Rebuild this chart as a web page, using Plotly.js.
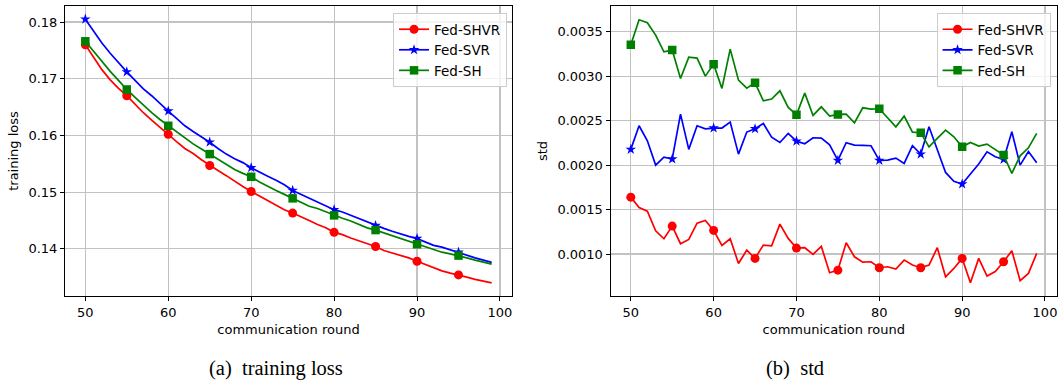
<!DOCTYPE html>
<html>
<head>
<meta charset="utf-8">
<script src="https://cdn.plot.ly/plotly-3.0.1.min.js"></script>
<style>html,body{margin:0;padding:0;background:#fff;}#chart{width:1062px;height:381px;}</style>
</head>
<body>
<div id="chart"></div>
<script>
// communication rounds
const rounds = [50,51,52,53,54,55,56,57,58,59,60,61,62,63,64,65,66,67,68,69,70,71,72,73,74,75,76,77,78,79,80,81,82,83,84,85,86,87,88,89,90,91,92,93,94,95,96,97,98,99];
// marker rounds
const markerRounds = [50,55,60,65,70,75,80,85,90,95];

// (a) training loss
const lossSHVR = [0.1760,0.1738,0.1716,0.1698,0.1683,0.1670,0.1655,0.1640,0.1627,0.1614,0.1602,0.1589,0.1577,0.1568,0.1557,0.1547,0.1538,0.1529,0.1519,0.1510,0.1501,0.1493,0.1485,0.1477,0.1469,0.1463,0.1457,0.1450,0.1443,0.1437,0.1429,0.1425,0.1419,0.1414,0.1409,0.1404,0.1397,0.1393,0.1389,0.1384,0.1378,0.1372,0.1366,0.1361,0.1357,0.1354,0.1350,0.1346,0.1343,0.1340];
const lossSVR = [0.1805,0.1784,0.1763,0.1745,0.1728,0.1712,0.1697,0.1682,0.1670,0.1656,0.1643,0.1630,0.1617,0.1607,0.1598,0.1588,0.1577,0.1567,0.1559,0.1552,0.1543,0.1535,0.1528,0.1521,0.1513,0.1503,0.1496,0.1489,0.1482,0.1475,0.1469,0.1465,0.1459,0.1453,0.1448,0.1441,0.1436,0.1431,0.1426,0.1422,0.1418,0.1412,0.1406,0.1403,0.1398,0.1394,0.1389,0.1384,0.1380,0.1376];
const lossSH = [0.1766,0.1748,0.1730,0.1713,0.1697,0.1681,0.1667,0.1653,0.1640,0.1628,0.1617,0.1606,0.1595,0.1585,0.1576,0.1567,0.1558,0.1550,0.1540,0.1533,0.1527,0.1518,0.1510,0.1503,0.1496,0.1489,0.1482,0.1475,0.1471,0.1465,0.1459,0.1454,0.1449,0.1443,0.1437,0.1433,0.1428,0.1423,0.1418,0.1413,0.1408,0.1404,0.1399,0.1394,0.1391,0.1388,0.1384,0.1380,0.1376,0.1373];

// (b) std
const stdSHVR = [0.001640,0.001524,0.001483,0.001262,0.001172,0.001314,0.001116,0.001164,0.001348,0.001378,0.001266,0.001097,0.001172,0.000894,0.001044,0.000951,0.001101,0.001093,0.001337,0.001176,0.001067,0.001071,0.000996,0.001086,0.000789,0.000819,0.001127,0.000969,0.000909,0.000913,0.000846,0.000857,0.000831,0.000932,0.000876,0.000846,0.000876,0.001071,0.000744,0.000838,0.000951,0.000677,0.000951,0.000752,0.000804,0.000913,0.001037,0.000700,0.000782,0.001007];
const stdSVR = [0.002177,0.002443,0.002274,0.002000,0.002090,0.002068,0.002574,0.002177,0.002443,0.002409,0.002417,0.002417,0.002484,0.002124,0.002372,0.002409,0.002469,0.002315,0.002255,0.002357,0.002270,0.002240,0.002308,0.002304,0.002229,0.002053,0.002252,0.002225,0.002222,0.002218,0.002053,0.002057,0.002079,0.002019,0.002218,0.002124,0.002432,0.002177,0.001918,0.001818,0.001787,0.001900,0.002012,0.002150,0.002094,0.002064,0.002375,0.002000,0.002154,0.002027];
const stdSH = [0.003354,0.003635,0.003601,0.003463,0.003275,0.003294,0.002975,0.003215,0.003204,0.003001,0.003136,0.002863,0.003305,0.002956,0.002866,0.002926,0.002724,0.002743,0.002836,0.002649,0.002567,0.002810,0.002559,0.002656,0.002551,0.002570,0.002574,0.002476,0.002645,0.002630,0.002634,0.002533,0.002431,0.002551,0.002371,0.002364,0.002206,0.002300,0.002394,0.002319,0.002206,0.002255,0.002214,0.002237,0.002177,0.002113,0.001907,0.002105,0.002195,0.002357];

const seriesNames = ['Fed-SHVR','Fed-SVR','Fed-SH'];
const captions = ['(a)\u2002training loss','(b)\u2002std'];

const colors = ['#ff0000','#0000ff','#008000'];
const symbols = ['circle','star','square'];
const msizes = [9,8,8.5];

function pick(arr){ return markerRounds.map(r => arr[rounds.indexOf(r)]); }

const traces = [];
function addSeries(vals, i, xa, ya, legendId){
  traces.push({x: rounds, y: vals, xaxis: xa, yaxis: ya, mode: 'lines', showlegend: false,
    line: {color: colors[i], width: 1.7}, hoverinfo: 'skip'});
  traces.push({x: markerRounds, y: pick(vals), xaxis: xa, yaxis: ya, mode: 'markers', showlegend: false,
    marker: {color: colors[i], symbol: symbols[i], size: msizes[i], line: {width: 0}}});
  traces.push({x: [null], y: [null], xaxis: xa, yaxis: ya, mode: 'lines+markers', name: seriesNames[i],
    legend: legendId, showlegend: true,
    line: {color: colors[i], width: 1.7}, marker: {color: colors[i], symbol: symbols[i], size: msizes[i], line: {width: 0}}});
}
[lossSHVR, lossSVR, lossSH].forEach((v,i) => addSeries(v, i, 'x', 'y', 'legend'));
[stdSHVR, stdSVR, stdSH].forEach((v,i) => addSeries(v, i, 'x2', 'y2', 'legend2'));

const font = {family: 'DejaVu Sans', size: 13, color: '#000'};
const axisCommon = {showline: true, mirror: true, linecolor: '#000', linewidth: 1,
  ticks: 'outside', ticklen: 4, tickwidth: 1, tickcolor: '#000',
  showgrid: true, gridcolor: '#c2c2c2', gridwidth: 1.1, zeroline: false,
  tickfont: {family: 'DejaVu Sans', size: 13, color: '#000'}};

const legendCommon = {bgcolor: 'rgba(255,255,255,0.8)', bordercolor: '#cccccc', borderwidth: 1,
  font: {family: 'DejaVu Sans', size: 13.5, color: '#000'}, xanchor: 'right', yanchor: 'top',
  tracegroupgap: 0, itemwidth: 30};

const layout = {
  width: 1062, height: 381,
  margin: {l: 65, r: 5, t: 6, b: 85},
  paper_bgcolor: '#fff', plot_bgcolor: '#fff',
  font: font,
  xaxis: Object.assign({}, axisCommon, {domain: [0, 0.4506], range: [47.55, 101.45], tickvals: [50,60,70,80,90,100], anchor: 'y',
    title: {text: 'communication round', font: font, standoff: 6}}),
  yaxis: Object.assign({}, axisCommon, {range: [0.131675, 0.182825], tickvals: [0.14,0.15,0.16,0.17,0.18], tickformat: '.2f', anchor: 'x',
    title: {text: 'training loss', font: font, standoff: 6}}),
  xaxis2: Object.assign({}, axisCommon, {domain: [0.5499, 1], range: [47.55, 101.45], tickvals: [50,60,70,80,90,100], anchor: 'y2',
    title: {text: 'communication round', font: font, standoff: 6}}),
  yaxis2: Object.assign({}, axisCommon, {range: [0.000528, 0.00379], tickvals: [0.001,0.0015,0.002,0.0025,0.003,0.0035], tickformat: '.4f', anchor: 'x2',
    title: {text: 'std', font: font, standoff: 6}}),
  legend: Object.assign({}, legendCommon, {x: 0.4456, y: 0.976}),
  legend2: Object.assign({}, legendCommon, {x: 0.9935, y: 0.976}),
  annotations: [
    {text: captions[0], xref: 'paper', yref: 'paper', x: 0.2127, y: -0.2517, xanchor: 'center', yanchor: 'middle', showarrow: false,
      font: {family: 'Liberation Serif', size: 20.5, color: '#000'}},
    {text: captions[1], xref: 'paper', yref: 'paper', x: 0.7359, y: -0.2517, xanchor: 'center', yanchor: 'middle', showarrow: false,
      font: {family: 'Liberation Serif', size: 20.5, color: '#000'}}
  ]
};

Plotly.newPlot('chart', traces, layout, {displayModeBar: false, staticPlot: true});
</script>
</body>
</html>
